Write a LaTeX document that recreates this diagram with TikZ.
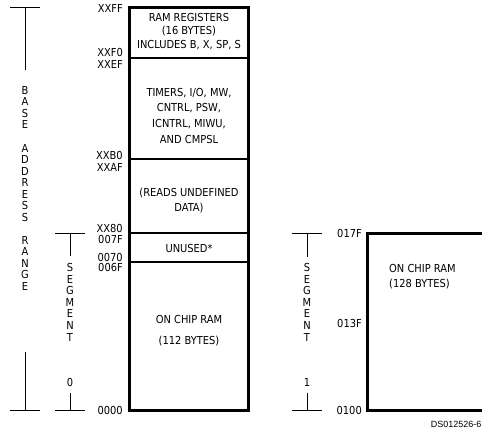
\documentclass[tikz,border=0pt]{standalone}
\usepackage{fontspec}
\setmainfont{DejaVu Sans Condensed}
\newfontfamily\dsfont{Liberation Sans}
\begin{document}
\begin{tikzpicture}[x=1pt,y=-1pt,
  txt/.style={font=\fontsize{11}{12}\selectfont, inner sep=0pt, align=center},
  addr/.style={txt, anchor=east},
  letter/.style={txt},
  boxline/.style={line width=3pt},
  divline/.style={line width=2.2pt},
  brk/.style={line width=0.8pt}]
\useasboundingbox (0,0) rectangle (482,431);

% ---- left memory box
\draw[boxline] (129,7) rectangle (248,410.5);
\draw[divline] (129,58) -- (248,58);
\draw[divline] (129,159) -- (248,159);
\draw[divline] (129,233) -- (248,233);
\draw[divline] (129,262) -- (248,262);

\node[txt] (rr1) at (189,17) {RAM REGISTERS};
\node[txt] (rr2) at (189,31) {(16 BYTES)};
\node[txt] (rr3) at (189,45) {INCLUDES B, X, SP, S};

\node[txt] (t1) at (189,93) {TIMERS, I/O, MW,};
\node[txt] (t2) at (189,108) {CNTRL, PSW,};
\node[txt] (t3) at (189,124) {ICNTRL, MIWU,};
\node[txt] (t4) at (189,139) {AND CMPSL};

\node[txt] (u1) at (189,193) {(READS UNDEFINED};
\node[txt] (u2) at (189,208) {DATA)};

\node[txt] (un) at (189,248) {UNUSED*};

\node[txt] (r1) at (189,319) {ON CHIP RAM};
\node[txt] (r2) at (189,341) {(112 BYTES)};

% ---- left addresses
\node[addr] (aXXFF) at (123,8) {XXFF};
\node[addr] (aXXF0) at (123,52) {XXF0};
\node[addr] (aXXEF) at (123,64) {XXEF};
\node[addr] (aXXB0) at (123,155) {XXB0};
\node[addr] (aXXAF) at (123,167) {XXAF};
\node[addr] (aXX80) at (123,228) {XX80};
\node[addr] (a007F) at (123,239) {007F};
\node[addr] (a0070) at (123,257) {0070};
\node[addr] (a006F) at (123,267) {006F};
\node[addr] (a0000) at (123,410) {0000};

% ---- base address range bracket
\coordinate (bt) at (25,7);
\coordinate (bb) at (25,410);
\draw[brk] (10,7) -- (40,7);
\draw[brk] (bt) -- (25,70);
\draw[brk] (25,352) -- (bb);
\draw[brk] (10,410) -- (40,410);
\foreach \l/\y [count=\i] in {B/90,A/101.5,S/113,E/124.5,A/148,D/159.5,D/171,R/182.5,E/194,S/205.5,S/217,R/240,A/251.5,N/263,G/274.5,E/286}
  \node[letter] (base\i) at (25,\y) {\l};

% ---- segment 0 bracket
\coordinate (s0t) at (70,233);
\coordinate (s0b) at (70,410);
\draw[brk] (55,233) -- (85,233);
\draw[brk] (s0t) -- (70,256);
\draw[brk] (70,393) -- (s0b);
\draw[brk] (55,410) -- (85,410);
\foreach \l/\y [count=\i] in {S/267,E/279,G/290.5,M/302,E/313.5,N/325,T/337,0/382}
  \node[letter] (sega\i) at (70,\y) {\l};

% ---- segment 1 bracket
\coordinate (s1t) at (307,233);
\coordinate (s1b) at (307,410);
\draw[brk] (292,233) -- (322,233);
\draw[brk] (s1t) -- (307,257);
\draw[brk] (307,393) -- (s1b);
\draw[brk] (292,410) -- (322,410);
\foreach \l/\y [count=\i] in {S/267,E/279,G/290.5,M/302,E/313.5,N/325,T/337,1/382}
  \node[letter] (segb\i) at (307,\y) {\l};

% ---- right memory box (cut at right edge)
\draw[boxline] (484,233) -- (367,233) -- (367,410) -- (484,410);
\node[addr] (a017F) at (362,233) {017F};
\node[addr] (a013F) at (362,323) {013F};
\node[addr] (a0100) at (362,410) {0100};
\node[txt, anchor=west, align=left] (rc1) at (389,268) {ON CHIP RAM};
\node[txt, anchor=west, align=left] (rc2) at (389,284) {(128 BYTES)};

\node[inner sep=0pt, anchor=east, font=\dsfont\fontsize{9}{10}\selectfont] (ds) at (481.5,424) {DS012526-6};
\end{tikzpicture}
\end{document}
